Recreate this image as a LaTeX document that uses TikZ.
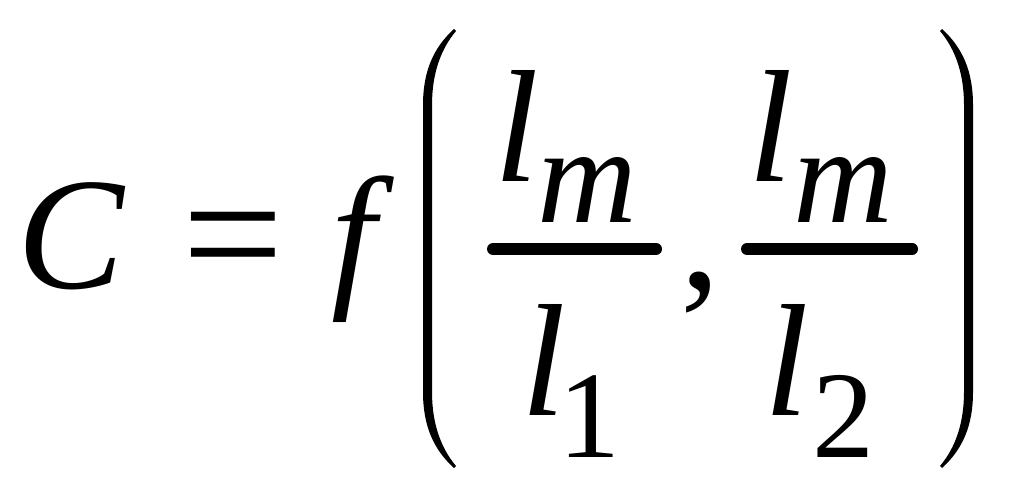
\documentclass[tikz,border=0pt]{standalone}
\usepackage{fontspec}
\setmainfont{Liberation Serif}
\begin{document}
\begin{tikzpicture}[x=1pt,y=-1pt,
  glyph/.style={inner sep=0pt, outer sep=0pt, anchor=base, font=\fontsize{160}{160}\selectfont\itshape},
  upglyph/.style={glyph, font=\fontsize{160}{160}\selectfont\upshape},
  bigup/.style={glyph, font=\fontsize{180}{180}\selectfont\upshape},
  subglyph/.style={glyph, font=\fontsize{138}{138}\selectfont\itshape},
  digit/.style={glyph, font=\fontsize{124}{124}\selectfont\upshape},
  fracbar/.style={line width=12pt, line cap=round},
  paren/.style={fill=black, draw=none}]
\useasboundingbox (0,0) rectangle (1016,492);
% main line
\node[glyph] (C) at (71,288) {C};
\node[bigup] (eq) at (233,294) {=};
\node[glyph] (f) at (354,288) {f};
% left parenthesis
\fill[paren] (454,29) .. controls (433,48) and (423,72) .. (423,105) -- (423,392)
  .. controls (423,425) and (433,449) .. (454,468) -- (456,466)
  .. controls (440,447) and (432,422) .. (432,392) -- (432,105)
  .. controls (432,75) and (440,50) .. (456,31) -- cycle;
% first fraction
\node[glyph] (l1n) at (517,181) {l};
\node[subglyph] (m1) at (587,222) {m};
\draw[fracbar] (493,249) -- (656,249);
\node[glyph] (l1d) at (544,415) {l};
\node[digit] (one) at (589,457) {1};
% comma
\node[upglyph] (comma) at (700,288) {,};
% second fraction
\node[glyph] (l2n) at (771,181) {l};
\node[subglyph] (m2) at (843,222) {m};
\draw[fracbar] (747,249) -- (912,249);
\node[glyph] (l2d) at (787,415) {l};
\node[digit] (two) at (843,457) {2};
% right parenthesis
\fill[paren] (942,29) .. controls (963,48) and (973,72) .. (973,105) -- (973,392)
  .. controls (973,425) and (963,449) .. (942,468) -- (940,466)
  .. controls (956,447) and (964,422) .. (964,392) -- (964,105)
  .. controls (964,75) and (956,50) .. (940,31) -- cycle;
\end{tikzpicture}
\end{document}
